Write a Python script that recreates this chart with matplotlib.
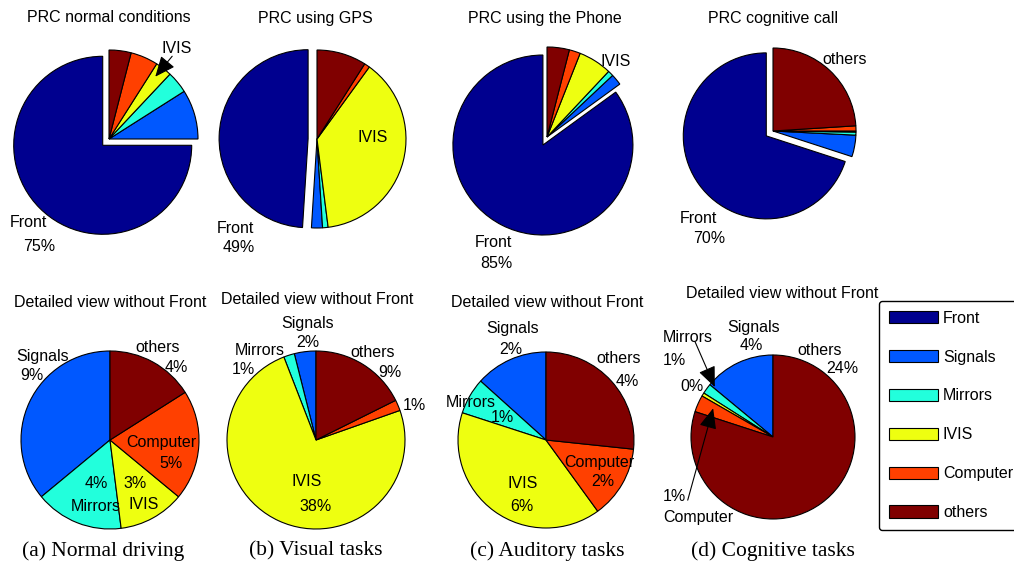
import matplotlib.pyplot as plt
from matplotlib.patches import Patch

plt.rcParams["font.family"] = ["Liberation Sans", "DejaVu Sans"]

categories = ["Front", "Signals", "Mirrors", "IVIS", "Computer", "others"]
normal = [75, 9, 4, 3, 5, 4]
visual = [49, 2, 1, 38, 1, 9]
auditory = [85, 2, 1, 6, 2, 4]
cognitive = [70, 4.2, 0.6, 0.2, 1.0, 24.0]

top_titles = ["PRC normal conditions", "PRC using GPS",
              "PRC using the Phone", "PRC cognitive call"]
detail_title = "Detailed view without Front"
captions = ["(a) Normal driving", "(b) Visual tasks",
            "(c) Auditory tasks", "(d) Cognitive tasks"]

# MATLAB jet, 6 slices
colors = ["#00008f", "#0058ff", "#22ffdc", "#eeff10", "#ff4000", "#800000"]

W, H = 1014, 564
S = 112          # half size of every pie axes in px
FS = 11.5

fig = plt.figure(figsize=(W / 100, H / 100), dpi=100)


def px(x, y):
    return x / W, 1 - y / H


def pie_axes(cx, cy, r):
    ax = fig.add_axes([(cx - S) / W, (H - cy - S) / H, 2 * S / W, 2 * S / H])
    return ax, S / r


def pct(v):
    return f"{v:.0f}%"


# (center px, radius px, labels, arrows) for the overall pies
top_layout = [
    ((109, 139), 89,
     [(0, "n", -0.91, -0.94), (0, "p", -0.79, -1.21), (3, "n", 0.76, 1.02)],
     [((0.71, 0.93), (0.52, 0.70))]),
    ((317, 139), 89,
     [(0, "n", -0.92, -1.01), (0, "p", -0.88, -1.22), (3, "n", 0.63, 0.02)],
     []),
    ((547, 137), 90,
     [(0, "n", -0.59, -1.17), (0, "p", -0.56, -1.40), (3, "n", 0.76, 0.84)],
     []),
    ((773, 131), 83,
     [(0, "n", -0.90, -1.05), (0, "p", -0.77, -1.30), (5, "n", 0.86, 0.86)],
     []),
]

bottom_layout = [
    ((110, 440), 89,
     [(1, "n", -0.76, 0.94), (1, "p", -0.88, 0.72),
      (5, "n", 0.54, 1.04), (5, "p", 0.75, 0.81),
      (4, "n", 0.58, -0.03), (4, "p", 0.69, -0.26),
      (2, "p", -0.15, -0.49), (2, "n", -0.16, -0.75),
      (3, "p", 0.28, -0.49), (3, "n", 0.38, -0.73)],
     []),
    ((316, 440), 89,
     [(1, "n", -0.10, 1.31), (1, "p", -0.09, 1.10),
      (2, "n", -0.63, 1.01), (2, "p", -0.82, 0.79),
      (5, "n", 0.64, 0.98), (5, "p", 0.83, 0.76),
      (4, "p", 1.11, 0.39),
      (3, "n", -0.10, -0.47), (3, "p", 0.00, -0.75)],
     []),
    ((546, 440), 88,
     [(1, "n", -0.38, 1.27), (1, "p", -0.40, 1.03),
      (5, "n", 0.82, 0.93), (5, "p", 0.92, 0.67),
      (2, "n", -0.85, 0.43), (2, "p", -0.50, 0.25),
      (4, "n", 0.61, -0.25), (4, "p", 0.65, -0.47),
      (3, "n", -0.27, -0.50), (3, "p", -0.27, -0.76)],
     []),
    ((773, 437), 82,
     [(1, "n", -0.24, 1.34), (1, "p", -0.26, 1.11),
      (2, "n", -1.04, 1.21), (2, "p", -1.20, 0.93),
      (3, "p", -0.99, 0.61),
      (5, "n", 0.57, 1.06), (5, "p", 0.85, 0.84),
      (4, "p", -1.20, -0.73), (4, "n", -0.91, -0.98)],
     [((-0.95, 1.16), (-0.71, 0.61)), ((-1.04, -0.77), (-0.73, 0.35))]),
]

datasets = [normal, visual, auditory, cognitive]
wedge_kw = dict(edgecolor="black", linewidth=0.8)


def add_labels(ax, values, labels, arrows):
    for idx, kind, x, y in labels:
        s = categories[idx] if kind == "n" else pct(values[idx])
        ax.text(x, y, s, ha="center", va="center", fontsize=FS)
    for start, tip in arrows:
        ax.annotate("", xy=tip, xytext=start,
                    arrowprops=dict(arrowstyle="-|>,head_length=0.7,head_width=0.3",
                                    color="black", lw=0.8, mutation_scale=18,
                                    shrinkA=0, shrinkB=0))


for i, values in enumerate(datasets):
    # overall distribution, Front pulled out
    (cx, cy), r, labels, arrows = top_layout[i]
    ax, lim = pie_axes(cx, cy, r)
    ax.pie(values, colors=colors, explode=[0.1, 0, 0, 0, 0, 0],
           startangle=90, counterclock=True, wedgeprops=wedge_kw)
    ax.set_xlim(-lim, lim)
    ax.set_ylim(-lim, lim)
    add_labels(ax, values, labels, arrows)
    fig.text(*px([109, 315, 545, 773][i], 18), top_titles[i],
             ha="center", va="center", fontsize=FS)

    # same without Front
    (cx, cy), r, labels, arrows = bottom_layout[i]
    ax, lim = pie_axes(cx, cy, r)
    ax.pie(values[1:], colors=colors[1:], startangle=90, counterclock=True,
           wedgeprops=wedge_kw)
    ax.set_xlim(-lim, lim)
    ax.set_ylim(-lim, lim)
    add_labels(ax, values, labels, arrows)
    fig.text(*px([110, 317, 547, 782][i], [302, 300, 302, 294][i]), detail_title,
             ha="center", va="center", fontsize=FS)
    fig.text(*px([103, 316, 547, 773][i], 551), captions[i],
             ha="center", va="center", fontsize=15.5, family="Liberation Serif")

handles = [Patch(facecolor=c, edgecolor="black", linewidth=0.8, label=n)
           for c, n in zip(colors, categories)]
fig.legend(handles=handles, loc="upper left", bbox_to_anchor=px(879, 301),
           frameon=True, fancybox=True, edgecolor="black", framealpha=1,
           fontsize=FS, handlelength=3.1, handleheight=0.85, labelspacing=1.5,
           borderpad=0.6, handletextpad=0.3, borderaxespad=0)

fig.savefig("out.png", dpi=100)
